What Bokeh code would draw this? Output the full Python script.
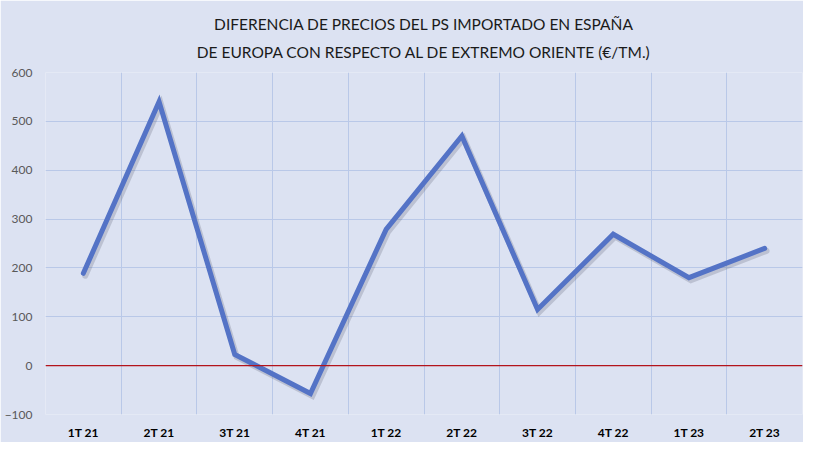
from bokeh.plotting import figure
from bokeh.models import FixedTicker, Title, ColumnDataSource, Span
from bokeh.transform import dodge
from bokeh.embed import file_html
from bokeh.resources import INLINE
import numpy as np

title_line1 = "DIFERENCIA DE PRECIOS DEL PS IMPORTADO EN ESPAÑA"
title_line2 = "DE EUROPA CON RESPECTO AL DE EXTREMO ORIENTE (€/TM.)"

categories = ["1T 21", "2T 21", "3T 21", "4T 21", "1T 22", "2T 22", "3T 22", "4T 22", "1T 23", "2T 23"]
values = [189, 540, 23, -57, 279, 470, 115, 269, 180, 240]
y_ticks = [-100, 0, 100, 200, 300, 400, 500, 600]

BG = "#dce2f2"
GRID = "#b9c8e8"
FONT = "Lato"

n = len(categories)
centers = list(np.arange(n) + 0.5)
src = ColumnDataSource(dict(x=centers, y=values))

p = figure(width=803, height=442, output_backend="svg", toolbar_location=None,
           x_range=(0, n), y_range=(y_ticks[0], y_ticks[-1]),
           min_border_left=45, min_border_right=1, min_border_top=72, min_border_bottom=26)
p.background_fill_color = BG
p.border_fill_color = BG
p.outline_line_color = None

title = Title(text=title_line1 + "\n" + title_line2, align="center", text_font=FONT,
              text_font_size="15.5px", text_font_style="normal", text_color="#1a1a1a",
              text_line_height=1.55, standoff=23)
if "text_align" in Title.properties():
    title.text_align = "center"
p.add_layout(title, "above")

# axes
p.xaxis.ticker = FixedTicker(ticks=centers)
p.xaxis.major_label_overrides = {c: lab for c, lab in zip(centers, categories)}
p.xaxis.major_label_text_font = FONT
p.xaxis.major_label_text_font_style = "bold"
p.xaxis.major_label_text_font_size = "12px"
p.xaxis.major_label_text_color = "#000000"
p.xaxis.major_label_standoff = 10
p.yaxis.ticker = FixedTicker(ticks=y_ticks)
p.yaxis.major_label_text_font = FONT
p.yaxis.major_label_text_font_size = "12px"
p.yaxis.major_label_text_color = "#595959"
p.yaxis.major_label_standoff = 13
for ax in (p.xaxis, p.yaxis):
    ax.axis_line_color = None
    ax.major_tick_line_color = None
    ax.minor_tick_line_color = None
    ax.major_tick_out = 0
    ax.major_tick_in = 0
    ax.minor_tick_out = 0
    ax.minor_tick_in = 0

# grids
p.xgrid.ticker = FixedTicker(ticks=list(range(n + 1)))
p.xgrid.grid_line_color = GRID
p.xgrid.grid_line_width = 1
p.ygrid.ticker = FixedTicker(ticks=y_ticks)
p.ygrid.grid_line_color = GRID
p.ygrid.grid_line_width = 1

# zero line
p.add_layout(Span(location=0, dimension="width", line_color="#b3141c", line_width=1.3))

# shadow and line
p.line(x=dodge("x", 0.025, range=p.x_range), y=dodge("y", -5, range=p.y_range), source=src,
       line_color="#3a3f55", line_alpha=0.2, line_width=6, line_join="miter", line_cap="round")
p.line(x="x", y="y", source=src, line_color="#5473c6", line_width=5,
       line_join="miter", line_cap="round")

open("out.html", "w").write(file_html(p, INLINE))
